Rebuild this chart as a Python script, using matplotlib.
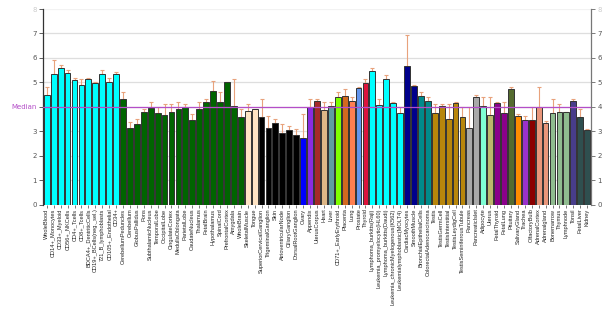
import matplotlib
matplotlib.use("Agg")
import matplotlib.pyplot as plt

# tissue samples, in chart order
samples = [
    "WholeBlood", "CD14+_Monocytes", "CD33+_Myeloid", "CD56+_NKCells", "CD4+_Tcells",
    "CD8+_Tcells", "BDCA4+_DentriticCells", "CD19+_BCells(neg._sel.)", "721_B_lymphoblasts",
    "CD105+_Endothelial", "CD34+",
    "CerebellumPeduncles", "Cerebellum", "GlobusPallidus", "Pons", "SubthalamicNucleus",
    "TemporalLobe", "OccipitalLobe", "CingulateCortex", "MedullaOblongata", "ParietalLobe",
    "CaudateNucleus", "Thalamus", "FetalBrain", "Hypothalamus", "SpinalCord",
    "PrefrontalCortex", "Amygdala", "WholeBrain",
    "SkeletalMuscle", "Tongue",
    "SuperiorCervicalGanglion", "TrigeminalGanglion", "Skin", "AtrioventricularNode",
    "CiliaryGanglion", "DorsalRootGanglion",
    "Ovary", "Appendix", "UterusCorpus", "Heart", "Liver", "CD71+_EarlyErythroid",
    "Placenta", "Lung", "Prostate", "Thyroid",
    "Lymphoma_burkitts(Raji)", "Leukemia_promyelocytic(HL60)", "Lymphoma_burkitts(Daudi)",
    "Leukemia_chronicMyelogenous(K562)", "Leukemialymphoblastic(MOLT4)",
    "CardiacMyocytes", "SmoothMuscle", "BronchialEpithelialCells", "ColorectalAdenocarcinoma",
    "Testis", "TestisGermCell", "TestisInterstitial", "TestisLeydigCell",
    "TestisSeminiferousTubule", "Pancreas", "PancreaticIslet", "Adipocyte", "Uterus",
    "FetalThyroid", "FetalLung", "Pituitary", "SalivaryGland", "Trachea", "OlfactoryBulb",
    "AdrenalCortex", "Adrenalgland", "Bonemarrow", "Thymus", "Lymphnode", "Tonsil",
    "FetalLiver", "Kidney",
]

expression = [
    4.50, 5.34, 5.60, 5.40, 5.11, 4.91, 5.13, 4.96, 5.34, 5.00, 5.34,
    4.31, 3.15, 3.29, 3.80, 3.97, 3.76, 3.67, 3.80, 3.91, 3.99, 3.46, 3.91, 4.20, 4.66,
    4.20, 5.02, 4.03, 3.60,
    3.82, 3.91,
    3.57, 3.15, 3.35, 2.94, 3.05, 2.86,
    2.71, 4.01, 4.24, 3.87, 4.04, 4.39, 4.46, 4.24, 4.76, 4.96,
    5.45, 4.09, 5.14, 4.15, 3.75,
    5.66, 4.85, 4.44, 4.24,
    3.76, 4.04, 3.50, 4.15, 3.57, 3.15, 4.39, 4.04, 3.65, 4.15, 3.75, 4.72, 3.61, 3.45,
    3.45, 3.98, 3.34, 3.76, 3.80, 3.80, 4.24, 3.60, 3.05,
]

# upper standard deviation
sd = [
    0.30, 0.56, 0.10, 0.10, 0.08, 0.22, 0.06, 0.06, 0.16, 0.19, 0.07,
    0.29, 0.24, 0.21, 0.11, 0.21, 0.23, 0.44, 0.31, 0.27, 0.12, 0.25, 0.27, 0.12, 0.38,
    0.40, 0.00, 1.10, 0.31,
    0.29, 0.00,
    0.75, 0.46, 0.15, 0.36, 0.15, 0.23,
    1.00, 0.30, 0.07, 0.31, 0.14, 0.22, 0.26, 0.15, 0.04, 0.17,
    0.15, 0.22, 0.15, 0.03, 0.24,
    1.26, 0.06, 0.17, 0.15,
    0.35, 0.07, 0.61, 0.03, 0.42, 0.84, 0.11, 0.35, 0.74, 0.03, 0.43, 0.08, 0.10, 0.16,
    0.54, 0.82, 0.07, 0.55, 0.31, 0.00, 0.07, 0.31, 0.04,
]

median = 4.01

# colour of each group and how many bars it holds
groups = [
    ("#00ffff", 11), ("#006400", 18), ("#ffe4c4", 2), ("#000000", 6),
    ("#0000ff", 1), ("#8a2be2", 1), ("#a52a2a", 1), ("#deb887", 1), ("#5f9ea0", 1),
    ("#7fff00", 1), ("#d2691e", 1), ("#ff7f50", 1), ("#6495ed", 1), ("#dc143c", 1),
    ("#00ffff", 5), ("#00008b", 2), ("#008b8b", 2), ("#b8860b", 5), ("#a9a9a9", 2),
    ("#7fffd4", 1), ("#bdb76b", 1), ("#8b008b", 2), ("#556b2f", 1), ("#ff8c00", 1),
    ("#9932cc", 1), ("#8b0000", 1), ("#e9967a", 2), ("#8fbc8f", 3), ("#483d8b", 1),
    ("#2f4f4f", 2),
]
colors = [c for c, n in groups for _ in range(n)]

fig = plt.figure(figsize=(6.15, 3.11), dpi=100)
ax = fig.add_axes([0.0699, 0.342, 0.891, 0.629])

x = list(range(len(samples)))
ax.bar(x, expression, width=0.84, color=colors, edgecolor="#333333", linewidth=0.7, zorder=3)
ax.errorbar(x, expression, yerr=[[0] * len(sd), sd], fmt="none", ecolor="#e8a27c",
            elinewidth=0.8, capsize=1.5, capthick=0.8, zorder=2)

ax.axhline(median, color="#b44ec8", linewidth=0.9, zorder=4)

ax.set_xlim(-0.55, len(samples) - 0.45)
ax.set_ylim(0, 8)
for yy in range(1, 9):
    ax.axhline(yy, color="#f2f2f2" if yy == 8 else "#dedede", linewidth=0.9, zorder=0)

yt = list(range(9))
ax.set_yticks(yt)
ax.set_yticklabels([("Median" if t == 4 else str(t)) for t in yt], fontsize=5,
                   color="#555555", family="DejaVu Sans")
lbls = ax.get_yticklabels()
lbls[4].set_color("#b44ec8")
lbls[8].set_color("#cccccc")
ax.tick_params(axis="y", length=3, width=0.6, color="#444444", pad=1.5)

ax.set_xticks(x)
ax.set_xticklabels(samples, rotation=90, fontsize=4.1, family="Liberation Sans",
                   color="#222222")
ax.tick_params(axis="x", length=2, width=0.5, color="#444444", pad=0.8)

ax.spines["top"].set_visible(False)
ax.spines["right"].set_visible(False)
ax.spines["bottom"].set_visible(False)
ax.spines["left"].set_color("#333333")
ax.spines["left"].set_linewidth(0.9)

ax2 = ax.twinx()
ax2.set_ylim(0, 8)
ax2.set_yticks(yt)
ax2.set_yticklabels([str(t) for t in yt], fontsize=5, color="#555555", family="DejaVu Sans")
ax2.get_yticklabels()[8].set_color("#cccccc")
ax2.tick_params(axis="y", length=3, width=0.6, color="#666666", pad=1.5)
for s in ("top", "left", "bottom"):
    ax2.spines[s].set_visible(False)
ax2.spines["right"].set_color("#777777")
ax2.spines["right"].set_linewidth(0.9)

fig.savefig("out.png", dpi=100)
